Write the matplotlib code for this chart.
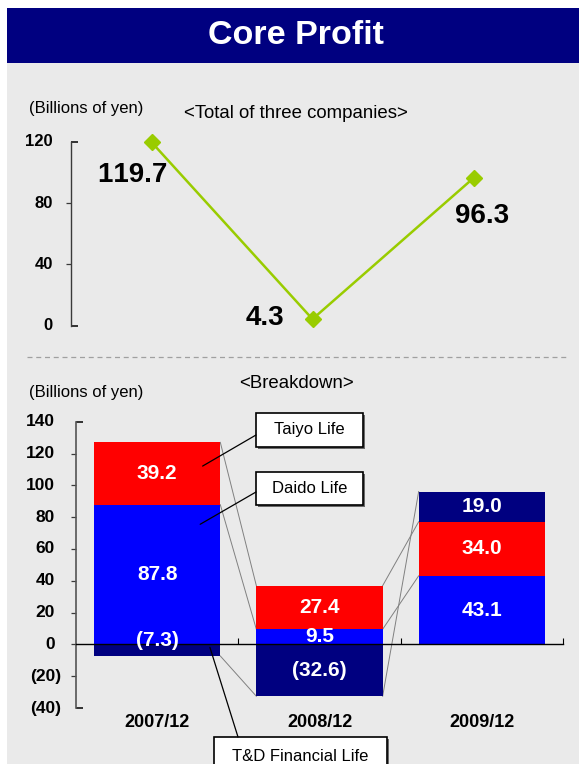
import matplotlib
matplotlib.use('Agg')
import matplotlib.pyplot as plt
import numpy as np
from matplotlib.patches import Rectangle, ConnectionPatch
from matplotlib.lines import Line2D
from matplotlib.transforms import ScaledTranslation

plt.rcParams['font.family'] = ['Liberation Sans', 'DejaVu Sans']

# ---------------- data ----------------
periods = ['2007/12', '2008/12', '2009/12']
total_profit = [119.7, 4.3, 96.3]
daido_life = [87.8, 9.5, 43.1]
taiyo_life = [39.2, 27.4, 34.0]
td_financial = [-7.3, -32.6, 19.0]
top_yticks = [0, 40, 80, 120]
bottom_yticks = [-40, -20, 0, 20, 40, 60, 80, 100, 120, 140]

# ---------------- layout helpers ----------------
W, H = 579, 764
DPI = 100
fig = plt.figure(figsize=(W / DPI, H / DPI), dpi=DPI)
fig.patch.set_facecolor('white')


def fx(px):
    return px / W


def fy(py):
    return 1 - py / H


def pxoff(dx, dy):
    return ScaledTranslation(dx / DPI, -dy / DPI, fig.dpi_scale_trans)


def nokern(s):
    # break the "11" kerning pair so the digits keep their normal spacing
    return s.replace('11', '1\u200b1')


BG = '#EAEAEA'
NAVY = '#000080'
RED = '#FF0000'
BLUE = '#0000FF'
GREEN = '#99CC00'
AXIS = '#3A3A3A'

# background panel and title bar
fig.add_artist(Rectangle((fx(7), 0), 1 - fx(7), fy(63), transform=fig.transFigure,
                         facecolor=BG, edgecolor='none', zorder=0))
fig.add_artist(Rectangle((fx(7), fy(63)), 1 - fx(7), fy(8) - fy(63), transform=fig.transFigure,
                         facecolor=NAVY, edgecolor='none', zorder=0))
fig.text(fx(296), fy(36), 'Core Profit', color='white', fontsize=24.5, fontweight='bold',
         ha='center', va='center')


def style_value_axis(ax, ticks, fmt, offsets, fontsize):
    """Outer ticks inside the range point outward, the two end ticks point inward."""
    ax.set_yticks(ticks[1:-1])
    ax.set_yticks([ticks[0], ticks[-1]], minor=True)
    ax.set_yticklabels([])
    ax.tick_params(axis='y', which='major', direction='out', length=3.3, width=0.9, color=AXIS)
    ax.tick_params(axis='y', which='minor', direction='in', length=5, width=1.1, color='black')
    ytr = ax.get_yaxis_transform()
    for v in ticks:
        txt = fmt(v)
        dx = offsets[0] if txt.startswith('(') else offsets[1]
        ax.text(0, v, txt, transform=ytr + pxoff(-dx, 0), ha='right', va='center',
                fontsize=fontsize, fontweight='bold')


# ---------------- top chart: total ----------------
ax1 = fig.add_axes([fx(71), fy(325.7), fx(554) - fx(71), (325.7 - 141.7) / H])
ax1.set_facecolor('none')
x = np.arange(len(periods))
ax1.plot(x, total_profit, color=GREEN, lw=1.8, marker='D', ms=8.5, clip_on=False, zorder=3)
ax1.set_xlim(-0.5, len(periods) - 0.5)
ax1.set_ylim(0, 120)
ax1.set_xticks([])
for s in ['top', 'right', 'bottom']:
    ax1.spines[s].set_visible(False)
ax1.spines['left'].set_linewidth(1.0)
ax1.spines['left'].set_color(AXIS)
style_value_axis(ax1, top_yticks, lambda v: f'{v}', (18.3, 18.3), 12)

line_label_offsets = [(-13.5, -24.0), (-34.0, 0.5), (6.5, -27.5)]
for xi, v, off in zip(x, total_profit, line_label_offsets):
    ax1.annotate(nokern(f'{v:.1f}'), (xi, v), xytext=off, textcoords='offset points',
                 ha='center', va='center', fontsize=20, fontweight='bold', color='black')

fig.text(fx(29), fy(108), '(Billions of yen)', fontsize=12, ha='left', va='center')
fig.text(fx(296), fy(113), '<Total of three companies>', fontsize=13.4, ha='center', va='center')

# dashed separator
fig.add_artist(Line2D([fx(27), fx(567)], [fy(357), fy(357)], transform=fig.transFigure,
                      color='#A0A0A0', lw=0.9, linestyle=(0, (4, 3))))

# ---------------- bottom chart: breakdown ----------------
ax2 = fig.add_axes([fx(76), fy(708), (563 - 76) / W, (708 - 421.7) / H])
ax2.set_facecolor('none')
ax2.set_xlim(-0.5, len(periods) - 0.5)
ax2.set_ylim(-40, 140)
bw = 0.778

series = [('Daido Life', daido_life, BLUE), ('Taiyo Life', taiyo_life, RED),
          ('T&D Financial Life', td_financial, NAVY)]
pos_base = np.zeros(len(periods))
neg_base = np.zeros(len(periods))
bottoms = {}
for name, vals, col in series:
    v = np.array(vals)
    b = np.where(v >= 0, pos_base, neg_base)
    ax2.bar(x, v, bottom=b, width=bw, color=col, edgecolor='none', zorder=1)
    bottoms[name] = b
    pos_base = pos_base + np.where(v >= 0, v, 0)
    neg_base = neg_base + np.where(v < 0, v, 0)

label_nudge = {('T&D Financial Life', 0): 6.0}
for name, vals, col in series:
    for i, v in enumerate(vals):
        yc = bottoms[name][i] + v / 2 + label_nudge.get((name, i), 0)
        txt = f'({abs(v):.1f})' if v < 0 else f'{v:.1f}'
        ax2.text(i, yc, txt, ha='center', va='center', color='white', fontsize=15,
                 fontweight='bold', zorder=4)

# connector lines between outer edges of segments
for name, vals, col in series:
    edges = bottoms[name] + np.array(vals)
    for i in range(len(periods) - 1):
        ax2.plot([i + bw / 2, i + 1 - bw / 2], [edges[i], edges[i + 1]], color='#808080',
                 lw=0.7, zorder=0.5)

for s in ['top', 'right']:
    ax2.spines[s].set_visible(False)
ax2.spines['bottom'].set_position(('data', 0))
ax2.spines['bottom'].set_linewidth(1.0)
ax2.spines['left'].set_linewidth(1.2)
ax2.spines['left'].set_color('#555555')
ax2.set_xticks(np.arange(len(periods)) + 0.5)
ax2.set_xticklabels([])
ax2.tick_params(axis='x', direction='in', length=4, width=0.8)
style_value_axis(ax2, bottom_yticks, lambda v: f'({abs(v)})' if v < 0 else f'{v}',
                 (15, 21), 12.5)

xtr = ax2.get_xaxis_transform()
for i, p in enumerate(periods):
    ax2.text(i, -0.049, p, transform=xtr, ha='center', va='center', fontsize=13,
             fontweight='bold')

fig.text(fx(29), fy(392), '(Billions of yen)', fontsize=12, ha='left', va='center')
fig.text(fx(296), fy(383), '<Breakdown>', fontsize=13.4, ha='center', va='center')


# ---------------- callout boxes ----------------
def callout(x0, y0, x1, y1, text):
    fig.add_artist(Rectangle((fx(x0 + 2), fy(y1 + 2)), fx(x1) - fx(x0), fy(y0) - fy(y1),
                             transform=fig.transFigure, facecolor='#6A6A6A',
                             edgecolor='none', zorder=5))
    fig.add_artist(Rectangle((fx(x0), fy(y1)), fx(x1) - fx(x0), fy(y0) - fy(y1),
                             transform=fig.transFigure, facecolor='white',
                             edgecolor='black', lw=1.2, zorder=6))
    fig.text(fx((x0 + x1) / 2), fy((y0 + y1) / 2), text, fontsize=12, ha='center',
             va='center', zorder=7)


def leader(px, py, data_xy):
    con = ConnectionPatch(xyA=(fx(px), fy(py)), coordsA=fig.transFigure,
                          xyB=data_xy, coordsB=ax2.transData, color='black', lw=0.9,
                          zorder=6)
    fig.add_artist(con)


callout(256, 413, 363, 447, 'Taiyo Life')
leader(256, 435, (0.28, daido_life[0] + taiyo_life[0] * 0.62))
callout(256, 472, 363, 505, 'Daido Life')
leader(256, 492, (0.265, daido_life[0] * 0.86))
callout(214, 737, 387, 776, 'T&D Financial Life')
leader(238, 737, (0.325, td_financial[0] * 0.26))

fig.savefig('out.png', dpi=DPI)
